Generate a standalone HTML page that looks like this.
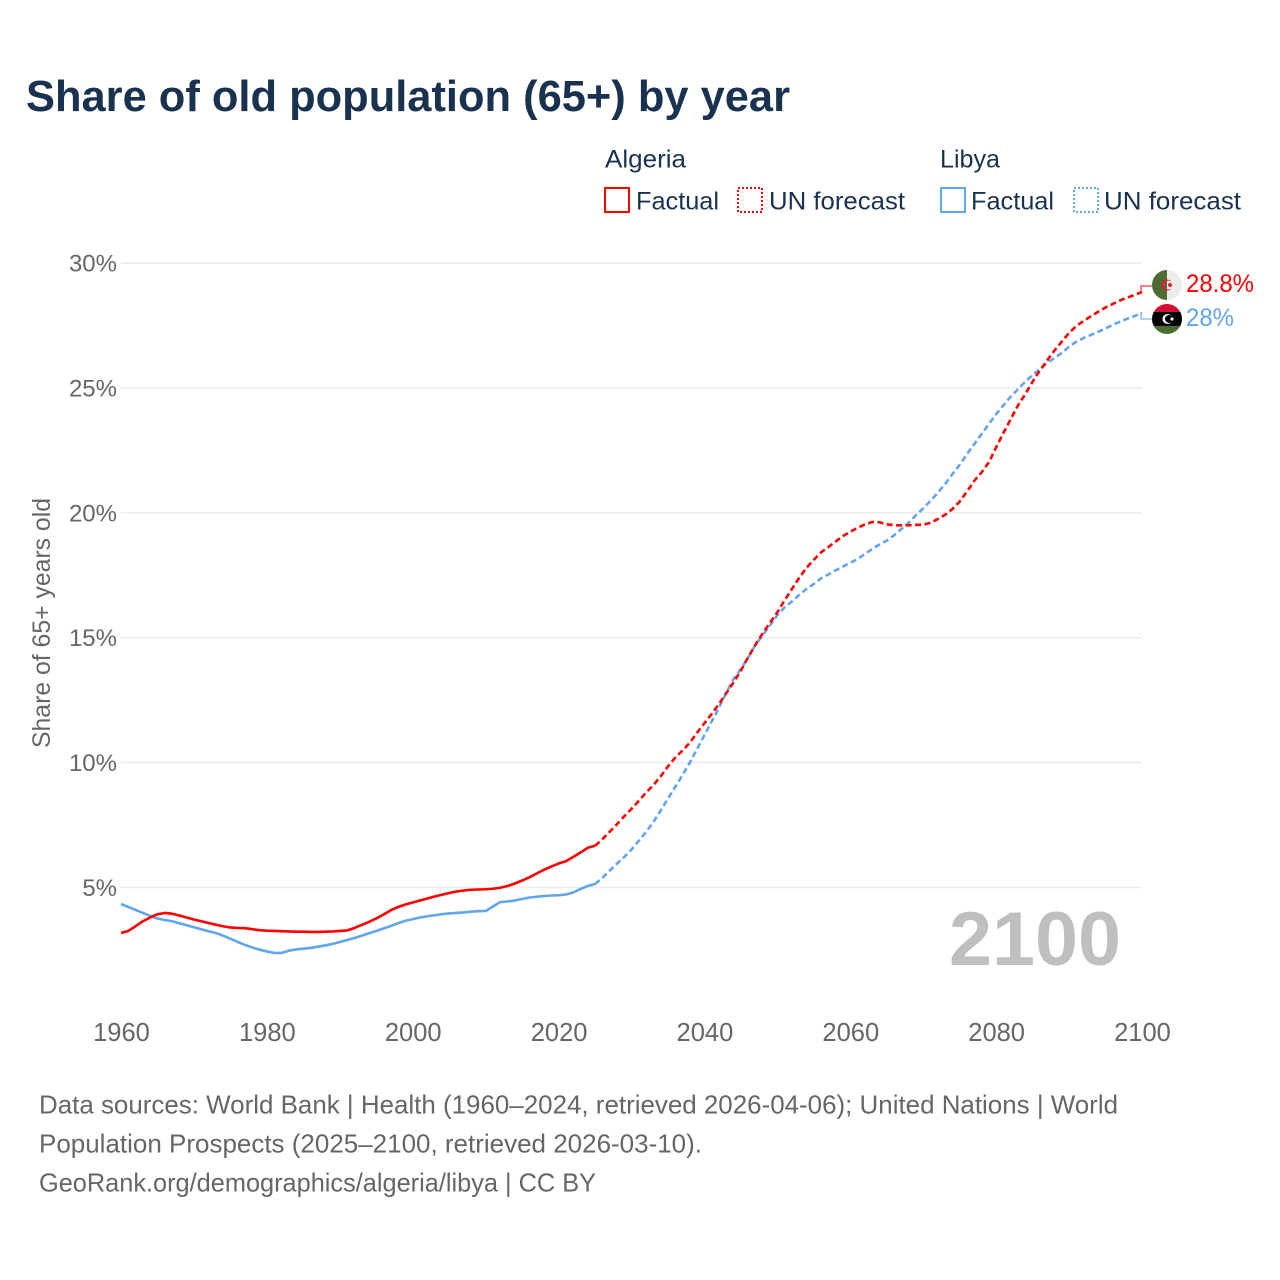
<!DOCTYPE html>
<html lang="en">
<head>
<meta charset="utf-8">
<title>Share of old population (65+) by year</title>
<style>
html,body{margin:0;padding:0;background:#fff;}
svg{display:block;font-family:"Liberation Sans",sans-serif;}
</style>
</head>
<body>
<svg id="chart" xmlns="http://www.w3.org/2000/svg" width="1280" height="1280" viewBox="0 0 1280 1280">
  <rect width="1280" height="1280" fill="#ffffff"/>
  <text x="26" y="111" font-size="44" font-weight="700" fill="#18324f" textLength="764" lengthAdjust="spacingAndGlyphs">Share of old population (65+) by year</text>

  <g font-size="25" fill="#18324f">
    <text x="605" y="167.5" textLength="81" lengthAdjust="spacingAndGlyphs">Algeria</text>
    <rect x="605" y="188" width="24" height="24" fill="none" stroke="#ff0000" stroke-width="2"/>
    <text x="636" y="209.5" textLength="83" lengthAdjust="spacingAndGlyphs">Factual</text>
    <rect x="738" y="188" width="24" height="24" fill="none" stroke="#ff0000" stroke-width="2" stroke-dasharray="2 2"/>
    <text x="769" y="209.5" textLength="136" lengthAdjust="spacingAndGlyphs">UN forecast</text>
    <text x="940" y="167.5" textLength="60" lengthAdjust="spacingAndGlyphs">Libya</text>
    <rect x="941" y="188" width="24" height="24" fill="none" stroke="#60a5ee" stroke-width="2"/>
    <text x="971" y="209.5" textLength="83" lengthAdjust="spacingAndGlyphs">Factual</text>
    <rect x="1074" y="188" width="24" height="24" fill="none" stroke="#60a5ee" stroke-width="2" stroke-dasharray="2 2"/>
    <text x="1104" y="209.5" textLength="137" lengthAdjust="spacingAndGlyphs">UN forecast</text>
  </g>

  <g id="grid"></g>
  <g id="yaxis"></g>
  <g id="xaxis"></g>
  <text transform="translate(50 748) rotate(-90)" font-size="25" fill="#666666" textLength="250" lengthAdjust="spacingAndGlyphs">Share of 65+ years old</text>
  <text x="949" y="965" font-size="76" font-weight="700" fill="#bfbfbf" textLength="172" lengthAdjust="spacingAndGlyphs">2100</text>
  <g id="series"></g>
  <g id="endmarks"></g>

  <g font-size="26" fill="#666666">
    <text x="39" y="1113.5" textLength="1079" lengthAdjust="spacingAndGlyphs">Data sources: World Bank | Health (1960–2024, retrieved 2026-04-06); United Nations | World</text>
    <text x="39" y="1152.5" textLength="663" lengthAdjust="spacingAndGlyphs">Population Prospects (2025–2100, retrieved 2026-03-10).</text>
    <text x="39" y="1191.5" textLength="557" lengthAdjust="spacingAndGlyphs">GeoRank.org/demographics/algeria/libya | CC BY</text>
  </g>
</svg>
<script>
var xTicks = [1960, 1980, 2000, 2020, 2040, 2060, 2080, 2100];
var yTicks = [5, 10, 15, 20, 25, 30];
var factualStartYear = 1960;
var forecastStartYear = 2025;
var algeriaFactual = [
  3.18,3.26,3.45,3.65,3.80,3.93,3.98,3.95,3.88,3.80,
  3.72,3.65,3.58,3.51,3.45,3.40,3.38,3.37,3.33,3.29,
  3.27,3.26,3.25,3.24,3.23,3.23,3.22,3.22,3.23,3.24,
  3.26,3.28,3.38,3.50,3.62,3.76,3.92,4.09,4.22,4.32,
  4.40,4.48,4.56,4.64,4.71,4.78,4.84,4.88,4.91,4.92,
  4.93,4.95,4.99,5.06,5.16,5.28,5.41,5.56,5.71,5.84,
  5.96,6.05,6.22,6.40,6.59,6.67
];
var algeriaForecast = [
  6.67,6.93,7.23,7.53,7.85,8.15,8.47,8.80,9.10,9.45,
  9.85,10.20,10.48,10.80,11.20,11.58,11.95,12.35,12.78,13.22,
  13.68,14.22,14.72,15.18,15.60,16.02,16.50,16.95,17.40,17.80,
  18.12,18.42,18.63,18.85,19.07,19.24,19.40,19.53,19.63,19.62,
  19.54,19.50,19.50,19.50,19.52,19.52,19.60,19.75,19.92,20.15,
  20.45,20.85,21.28,21.62,22.02,22.62,23.20,23.75,24.30,24.75,
  25.25,25.70,26.10,26.50,26.85,27.20,27.48,27.68,27.87,28.05,
  28.22,28.36,28.50,28.62,28.72,28.84
];
var libyaFactual = [
  4.34,4.22,4.10,3.98,3.86,3.76,3.70,3.65,3.57,3.49,
  3.41,3.33,3.25,3.18,3.07,2.95,2.82,2.70,2.60,2.51,
  2.44,2.38,2.38,2.47,2.52,2.55,2.58,2.63,2.68,2.74,
  2.82,2.90,2.98,3.07,3.17,3.26,3.36,3.46,3.57,3.67,
  3.73,3.80,3.85,3.89,3.93,3.96,3.98,4.00,4.03,4.05,
  4.06,4.24,4.42,4.44,4.48,4.54,4.60,4.63,4.66,4.68,
  4.69,4.72,4.80,4.94,5.06,5.14
];
var libyaForecast = [
  5.14,5.38,5.67,5.95,6.22,6.52,6.87,7.22,7.62,8.08,
  8.56,9.03,9.50,10.00,10.55,11.10,11.65,12.20,12.80,13.35,
  13.75,14.20,14.72,15.10,15.50,15.90,16.22,16.45,16.72,16.95,
  17.15,17.38,17.53,17.70,17.85,18.00,18.15,18.35,18.55,18.73,
  18.88,19.10,19.35,19.60,19.90,20.18,20.48,20.80,21.15,21.55,
  21.92,22.35,22.75,23.15,23.55,23.95,24.30,24.65,24.95,25.25,
  25.52,25.75,26.00,26.20,26.40,26.65,26.85,27.00,27.12,27.25,
  27.38,27.53,27.65,27.77,27.88,28.00
];

var NS = 'http://www.w3.org/2000/svg';
var RED = '#ff0000';
var BLUE = '#60a5ee';
var GREEN = '#4d6c33';
var PALE = '#ececec';
function xScale(year) { return 121 + (year - 1960) * (1142 - 121) / 140; }
function yScale(v) { return 887.5 - (v - 5) * (887.5 - 263) / 25; }
function make(tag, parent, attrs) {
  var el = document.createElementNS(NS, tag);
  for (var k in attrs) { el.setAttribute(k, attrs[k]); }
  parent.appendChild(el);
  return el;
}
function pathFor(values, startYear) {
  return values.map(function (v, i) {
    return (i ? 'L' : 'M') + xScale(startYear + i).toFixed(2) + ' ' + yScale(v).toFixed(2);
  }).join(' ');
}

var grid = document.getElementById('grid');
var yaxis = document.getElementById('yaxis');
yTicks.forEach(function (t) {
  var line = make('line', grid, {x1: xScale(1960), x2: xScale(2100), y1: yScale(t), y2: yScale(t), stroke: '#ececec', 'stroke-width': 1.5});
  
  
  var label = make('text', yaxis, {x: 117, y: yScale(t) + 8.5, 'text-anchor': 'end', 'font-size': 24, fill: '#666666'});
  
  
  label.textContent = t + '%';
});

var xaxis = document.getElementById('xaxis');
xTicks.forEach(function (t) {
  var label = make('text', xaxis, {x: xScale(t) + 0.5, y: 1041, 'text-anchor': 'middle', 'font-size': 25.5, fill: '#666666'});
  
  
  label.textContent = t;
});

var series = document.getElementById('series');
function drawLine(values, startYear, color, dashed, name) {
  var p = make('path', series, {d: pathFor(values, startYear), fill: 'none', stroke: color, 'stroke-width': 2.6, 'stroke-linejoin': 'round'});
  if (dashed) { p.setAttribute('stroke-dasharray', '6 3.5'); }
  
  
}
drawLine(libyaFactual, factualStartYear, BLUE, false, 'libya-factual-line');
drawLine(libyaForecast, forecastStartYear, BLUE, true, 'libya-forecast-line');
drawLine(algeriaFactual, factualStartYear, RED, false, 'algeria-factual-line');
drawLine(algeriaForecast, forecastStartYear, RED, true, 'algeria-forecast-line');

var endmarks = document.getElementById('endmarks');
var lastAlgeria = algeriaForecast[algeriaForecast.length - 1];
var lastLibya = libyaForecast[libyaForecast.length - 1];
var ya = yScale(lastAlgeria) - 7;
var yl = yScale(lastLibya) + 6;
var ex = xScale(2100) - 1;

var conA = make('path', endmarks, {d: 'M' + ex + ' ' + yScale(lastAlgeria) + ' V' + (ya + 1) + ' H1152', fill: 'none', stroke: RED, 'stroke-width': 1});


var conL = make('path', endmarks, {d: 'M' + ex + ' ' + yScale(lastLibya) + ' V' + yl + ' H1152', fill: 'none', stroke: BLUE, 'stroke-width': 1});



var defs = make('defs', endmarks, {});
var clipA = make('clipPath', defs, {id: 'clip-a'});
make('circle', clipA, {cx: 1167, cy: ya, r: 15});
var clipL = make('clipPath', defs, {id: 'clip-l'});
make('circle', clipL, {cx: 1167, cy: yl, r: 15});

var flagA = make('g', endmarks, {'clip-path': 'url(#clip-a)'});


make('rect', flagA, {x: 1152, y: ya - 15, width: 15, height: 30, fill: GREEN});
make('rect', flagA, {x: 1167, y: ya - 15, width: 15, height: 30, fill: PALE});
make('circle', flagA, {cx: 1167, cy: ya, r: 5.5, fill: '#e0202c'});
make('circle', flagA, {cx: 1168.5, cy: ya, r: 4.4, fill: PALE});
make('path', flagA, {d: 'M1167 ' + (ya - 4.14) + ' A4.4 4.4 0 0 0 1167 ' + (ya + 4.14) + ' Z', fill: GREEN});
make('circle', flagA, {cx: 1170, cy: ya, r: 2, fill: '#e0202c'});

var flagL = make('g', endmarks, {'clip-path': 'url(#clip-l)'});


make('rect', flagL, {x: 1152, y: yl - 15, width: 30, height: 8, fill: '#d40f33'});
make('rect', flagL, {x: 1152, y: yl - 7, width: 30, height: 14, fill: '#000000'});
make('rect', flagL, {x: 1152, y: yl + 7, width: 30, height: 8, fill: GREEN});
make('circle', flagL, {cx: 1167.5, cy: yl, r: 5, fill: '#ffffff'});
make('circle', flagL, {cx: 1169, cy: yl, r: 4, fill: '#000000'});
make('circle', flagL, {cx: 1172, cy: yl, r: 1.6, fill: '#ffffff'});

var valA = make('text', endmarks, {x: 1186, y: ya + 7, 'font-size': 25, fill: RED, textLength: 68, lengthAdjust: 'spacingAndGlyphs'});


valA.textContent = (Math.round(lastAlgeria * 10) / 10) + '%';
var valL = make('text', endmarks, {x: 1186, y: yl + 7, 'font-size': 25, fill: BLUE, textLength: 48, lengthAdjust: 'spacingAndGlyphs'});


valL.textContent = (Math.round(lastLibya * 10) / 10) + '%';
</script>
</body>
</html>
